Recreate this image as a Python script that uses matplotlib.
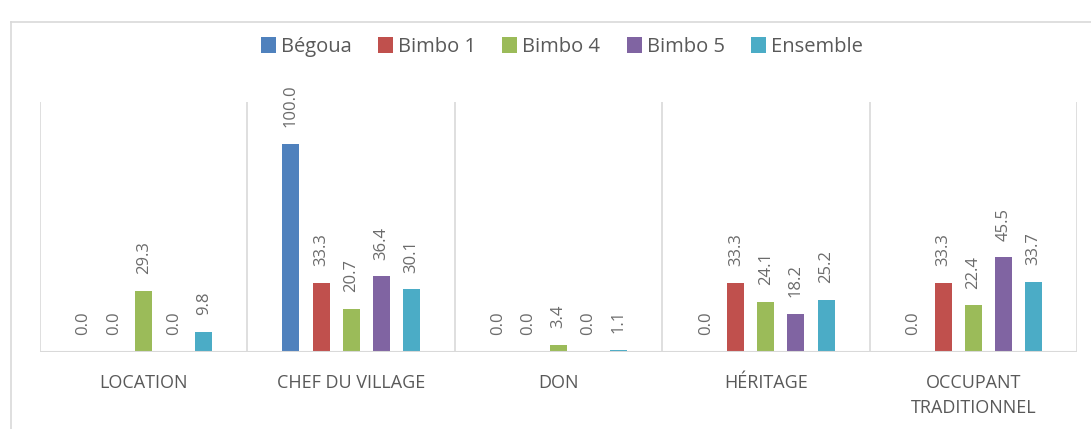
import matplotlib
matplotlib.use("Agg")
import matplotlib.pyplot as plt
import numpy as np
from matplotlib.lines import Line2D

categories = ["LOCATION", "CHEF DU VILLAGE", "DON", "HÉRITAGE", "OCCUPANT\nTRADITIONNEL"]
series_names = ["Bégoua", "Bimbo 1", "Bimbo 4", "Bimbo 5", "Ensemble"]
begoua = [0.0, 100.0, 0.0, 0.0, 0.0]
bimbo1 = [0.0, 33.3, 0.0, 33.3, 33.3]
bimbo4 = [29.3, 20.7, 3.4, 24.1, 22.4]
bimbo5 = [0.0, 36.4, 0.0, 18.2, 45.5]
ensemble = [9.8, 30.1, 1.1, 25.2, 33.7]
colors = ["#4f81bd", "#c0504d", "#9bbb59", "#8064a2", "#4bacc6"]

plt.rcParams['font.family'] = ['Open Sans', 'DejaVu Sans']

fig = plt.figure(figsize=(10.91, 4.29), dpi=100)
ax = fig.add_axes([40/1091, 77/429, 1037/1091, 250/429])

# outer chart border (left & top visible)
fig.add_artist(Line2D([11/1091, 11/1091], [0, 1-22/429], transform=fig.transFigure, color="#d9d9d9", lw=1.2))
fig.add_artist(Line2D([11/1091, 1], [1-22/429, 1-22/429], transform=fig.transFigure, color="#d9d9d9", lw=1.2))

data = [begoua, bimbo1, bimbo4, bimbo5, ensemble]
n = len(series_names)
x = np.arange(len(categories))
step = 0.145
width = 0.082
for i, (name, vals, c) in enumerate(zip(series_names, data, colors)):
    pos = x + (i - (n - 1) / 2) * step
    bars = ax.bar(pos, vals, width=width, color=c, label=name, zorder=3)
    for b, v in zip(bars, vals):
        ax.annotate(f"{v:.1f}", (b.get_x() + b.get_width() / 2, v),
                    xytext=(0, 12), textcoords="offset points",
                    rotation=90, ha="center", va="bottom",
                    fontsize=12, color="#6b6b6b")

ax.set_xlim(-0.5, len(categories) - 0.5)
ax.set_ylim(0, 120)
for b in np.arange(len(categories) + 1) - 0.5:
    ax.axvline(b, color="#d9d9d9", lw=1.2, zorder=1)
ax.axhline(0, color="#d9d9d9", lw=1.5, zorder=4)
for s in ax.spines.values():
    s.set_visible(False)
ax.set_yticks([])
ax.set_xticks(x)
ax.set_xticklabels(categories, fontsize=13, color="#595959", linespacing=1.45)
ax.tick_params(axis="x", length=0, pad=16)

leg = fig.legend(loc="center", bbox_to_anchor=(0.515, 1 - 47/429), ncol=5, frameon=False,
                 fontsize=14.5, handlelength=0.75, handleheight=0.85, handletextpad=0.25,
                 columnspacing=1.3, labelcolor="#595959")

fig.savefig("out.png", dpi=100)
